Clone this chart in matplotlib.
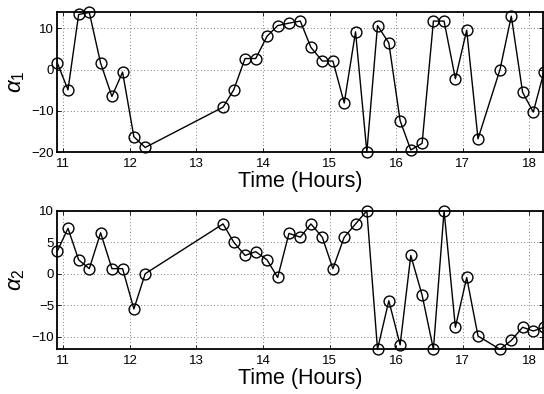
import matplotlib
matplotlib.use("Agg")
import matplotlib.pyplot as plt
import numpy as np

plt.rcParams['font.family'] = ['Liberation Sans', 'DejaVu Sans']
plt.rcParams['mathtext.fontset'] = 'custom'
plt.rcParams['mathtext.rm'] = 'Liberation Sans'
plt.rcParams['mathtext.it'] = 'Liberation Sans:italic'

time_hours = [10.91, 11.07, 11.23, 11.39, 11.56, 11.73, 11.89, 12.06, 12.23,
              13.40, 13.56, 13.73, 13.89, 14.06, 14.22, 14.39, 14.56, 14.72,
              14.89, 15.05, 15.22, 15.39, 15.56, 15.72, 15.89, 16.06, 16.22,
              16.39, 16.56, 16.72, 16.89, 17.06, 17.23, 17.56, 17.73, 17.90,
              18.06, 18.22]

alpha1 = [1.6, -4.9, 13.4, 13.9, 1.6, -6.5, -0.6, -16.3, -18.9,
          -9.1, -4.9, 2.7, 2.7, 8.1, 10.7, 11.3, 11.8, 5.4,
          2.1, 2.1, -8.1, 9.2, -20.0, 10.7, 6.5, -12.4, -19.5,
          -17.9, 11.8, 11.8, -2.2, 9.6, -16.8, 0.0, 13.0, -5.5,
          -10.3, -0.6]

alpha2 = [3.6, 7.2, 2.2, 0.8, 6.5, 0.8, 0.8, -5.6, 0.0,
          7.9, 5.0, 2.9, 3.5, 2.2, -0.6, 6.4, 5.8, 7.9,
          5.8, 0.8, 5.8, 7.9, 10.0, -12.0, -4.3, -11.3, 2.9,
          -3.4, -12.0, 10.0, -8.5, -0.6, -9.9, -12.0, -10.6, -8.5,
          -9.1, -8.5]

xticks = [11, 12, 13, 14, 15, 16, 17, 18]
yticks1 = [-20, -10, 0, 10]
yticks2 = [-10, -5, 0, 5, 10]

fig = plt.figure(figsize=(5.44, 3.94), dpi=100)
ax1 = fig.add_axes([0.1048, 0.6142, 0.8932, 0.3553])
ax2 = fig.add_axes([0.1048, 0.1135, 0.8932, 0.3517])

def style(ax, series, ylim, yticks, ylabel):
    ax.plot(time_hours, series, color='black', linewidth=1.0, marker='o',
            markersize=7.8, markerfacecolor='none', markeredgecolor='black',
            markeredgewidth=1.0, clip_on=False, zorder=3)
    ax.set_xlim(10.905, 18.205)
    ax.set_ylim(*ylim)
    ax.set_xticks(xticks)
    ax.set_yticks(yticks)
    ax.set_yticklabels([str(v).replace('-', '\u2212') for v in yticks])
    ax.grid(True, linestyle=(0, (1, 3)), color='#555555', linewidth=0.6)
    ax.tick_params(direction='in', top=True, right=True, labelsize=9.5,
                   length=3, width=0.6)
    ax.tick_params(axis='x', pad=4)
    ax.tick_params(axis='y', pad=2)
    for s in ax.spines.values():
        s.set_linewidth(1.3)
    ax.set_xlabel('Time (Hours)', fontsize=15.5, labelpad=1)
    ax.set_ylabel(ylabel, fontsize=16, labelpad=3)

style(ax1, alpha1, (-20, 14), yticks1, r'$\alpha_1$')
style(ax2, alpha2, (-12, 10), yticks2, r'$\alpha_2$')

fig.savefig('out.png', dpi=100)
